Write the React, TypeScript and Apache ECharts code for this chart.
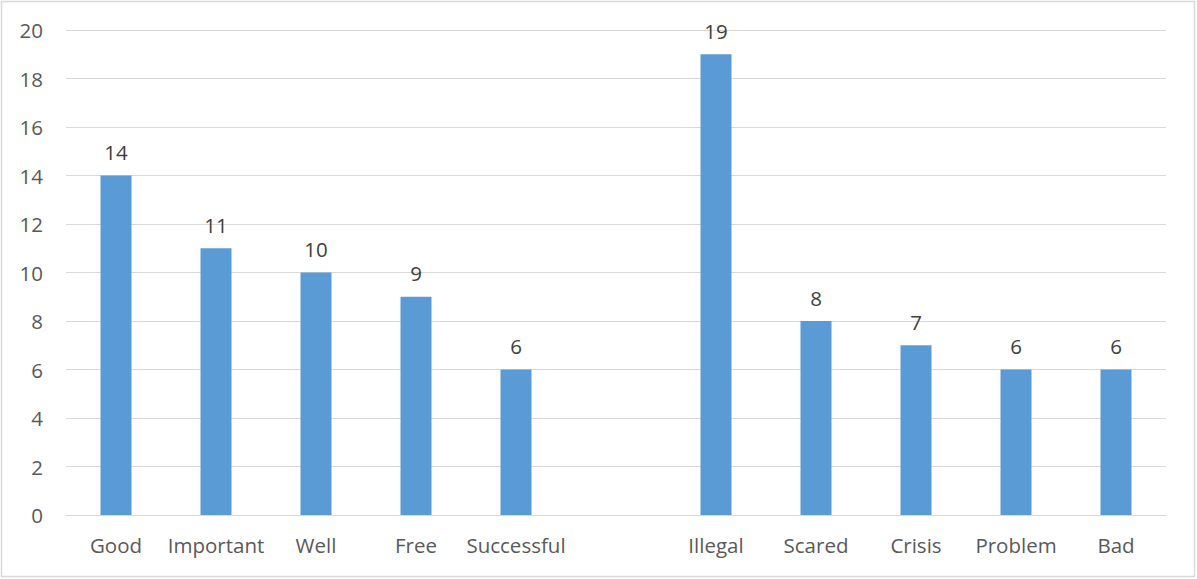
import React, { useEffect, useRef } from "react";
import * as echarts from "echarts";

const categories = ["Good", "Important", "Well", "Free", "Successful", "", "Illegal", "Scared", "Crisis", "Problem", "Bad"];
const values: (number | null)[] = [14, 11, 10, 9, 6, null, 19, 8, 7, 6, 6];
const yMin = 0;
const yMax = 20;
const yInterval = 2;

export default function App() {
  const ref = useRef<HTMLDivElement>(null);
  useEffect(() => {
    document.body.style.margin = "0";
    const chart = echarts.init(ref.current!, null, { renderer: "svg" });
    const font = "'Open Sans', sans-serif";
    chart.setOption({
      animation: false,
      backgroundColor: "#ffffff",
      grid: { left: 66, right: 31, top: 30, bottom: 64, containLabel: false },
      xAxis: {
        type: "category",
        data: categories,
        axisLine: { lineStyle: { color: "#d9d9d9", width: 1 } },
        axisTick: { show: false },
        axisLabel: { color: "#595959", fontSize: 20.5, fontFamily: font, margin: 19, interval: 0 },
      },
      yAxis: {
        type: "value",
        min: yMin,
        max: yMax,
        interval: yInterval,
        axisLine: { show: false },
        axisTick: { show: false },
        splitLine: { lineStyle: { color: "#d9d9d9", width: 1 } },
        axisLabel: { color: "#595959", fontSize: 20.5, fontFamily: font, margin: 23 },
      },
      series: [
        {
          type: "bar",
          data: values,
          barWidth: 31,
          itemStyle: { color: "#5b9bd5" },
          label: {
            show: true,
            position: "top",
            distance: 13,
            color: "#404040",
            fontSize: 20.5,
            fontFamily: font,
          },
        },
      ],
      graphic: [
        {
          type: "rect",
          shape: { x: 1.5, y: 1.5, width: 1193, height: 575 },
          style: { fill: "none", stroke: "#d9d9d9", lineWidth: 1.5 },
          silent: true,
        },
      ],
    });
    return () => chart.dispose();
  }, []);
  return <div ref={ref} style={{ position: "fixed", left: 0, top: 0, width: 1197, height: 579 }} />;
}
